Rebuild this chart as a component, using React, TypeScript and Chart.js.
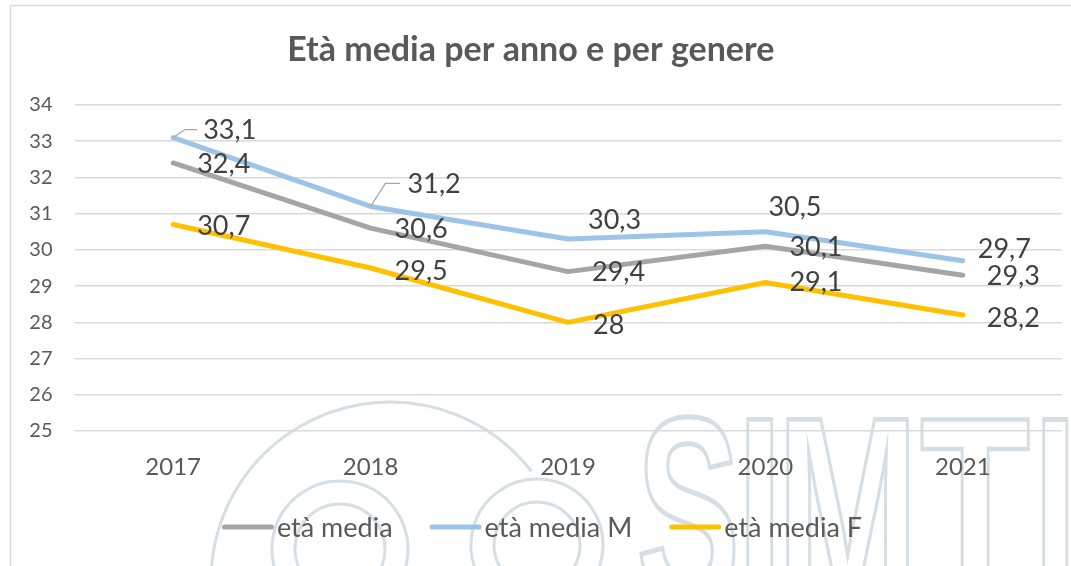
import React, { useEffect, useRef } from "react";
import { Chart, registerables } from "chart.js";

Chart.register(...registerables);

const years = ["2017", "2018", "2019", "2020", "2021"];
const etaMedia = [32.4, 30.6, 29.4, 30.1, 29.3];
const etaMediaM = [33.1, 31.2, 30.3, 30.5, 29.7];
const etaMediaF = [30.7, 29.5, 28, 29.1, 28.2];
const yTicks = [25, 26, 27, 28, 29, 30, 31, 32, 33, 34];

const seriesNames = ["età media", "età media M", "età media F"];
const seriesColors = ["#a5a5a5", "#9dc3e6", "#ffc000"];

// label placement (dx to left edge of label, dy to label centre), per series/point
const labelOffsets = [
  [[24, 0], [24, 0], [24, 0], [24, 0], [24, 0]],
  [[30, -8], [37, -23], [20, -20], [3, -25], [15, -12]],
  [[24, 1], [24, 2], [25, 2], [24, -1], [24, 2]],
];
// leader lines for some labels: series, point
const leaders = [
  [1, 0],
  [1, 1],
];

// watermark letters: char, left, width
const wmLetters: [string, number, number][] = [
  ["S", 639, 97],
  ["I", 747, 26],
  ["M", 787, 123],
  ["T", 920, 110],
  ["I", 1043, 25],
];

const FONT = "Lato, 'Open Sans', sans-serif";
const LEGEND = { centerX: 542, centerY: 527, lineLen: 52, gap: 3, itemGap: 37, fontSize: 27 };

const fmt = (v: number) => String(v).replace(".", ",");

const backgroundPlugin = {
  id: "bgDecor",
  beforeDraw(chart: any) {
    const ctx = chart.ctx as CanvasRenderingContext2D;
    ctx.save();
    ctx.strokeStyle = "#d9d9d9";
    ctx.lineWidth = 1.5;
    ctx.strokeRect(10.5, 5.5, 1200, 700);
    // watermark
    ctx.strokeStyle = "rgba(150,172,190,0.40)";
    ctx.lineWidth = 3;
    ctx.beginPath();
    ctx.arc(390, 581, 179, Math.PI * 0.95, Math.PI * 1.79);
    ctx.stroke();
    const rings = [
      [340, 549, 68, 45],
      [537, 545, 66, 43],
    ];
    rings.forEach(([cx, cy, ro, ri]) => {
      ctx.beginPath();
      ctx.arc(cx, cy, ro, Math.PI * 0.8, Math.PI * 2.25);
      ctx.stroke();
      ctx.beginPath();
      ctx.arc(cx, cy, ri, Math.PI * 0.75, Math.PI * 2.3);
      ctx.stroke();
    });
    const size = 265;
    ctx.font = `bold ${size}px 'Liberation Sans', Arial, sans-serif`;
    ctx.textBaseline = "alphabetic";
    ctx.textAlign = "left";
    const base = 412 + size * 0.716;
    wmLetters.forEach(([ch, left, w]) => {
      const m = ctx.measureText(ch);
      const ink = m.actualBoundingBoxLeft + m.actualBoundingBoxRight;
      const sx = w / ink;
      ctx.save();
      ctx.translate(left, base);
      ctx.scale(sx, 1);
      ctx.lineWidth = 3 / sx;
      ctx.strokeText(ch, m.actualBoundingBoxLeft, 0);
      ctx.restore();
    });
    ctx.restore();
  },
};

const labelsPlugin = {
  id: "pointLabels",
  afterDatasetsDraw(chart: any) {
    const ctx = chart.ctx as CanvasRenderingContext2D;
    ctx.save();
    ctx.strokeStyle = "#a6a6a6";
    ctx.lineWidth = 1.2;
    leaders.forEach(([s, p]) => {
      const el = chart.getDatasetMeta(s).data[p];
      const [dx, dy] = labelOffsets[s][p];
      const x0 = el.x;
      const y0 = el.y;
      const yL = y0 + dy;
      ctx.beginPath();
      ctx.moveTo(x0, y0);
      ctx.lineTo(x0 + dx * 0.4, yL);
      ctx.lineTo(x0 + dx * 0.8, yL);
      ctx.stroke();
    });
    ctx.font = `27px ${FONT}`;
    ctx.fillStyle = "#404040";
    ctx.textAlign = "left";
    ctx.textBaseline = "middle";
    chart.data.datasets.forEach((ds: any, s: number) => {
      const meta = chart.getDatasetMeta(s);
      meta.data.forEach((el: any, p: number) => {
        const [dx, dy] = labelOffsets[s][p];
        ctx.fillText(fmt(ds.data[p]), el.x + dx, el.y + dy + 1);
      });
    });
    ctx.restore();
  },
};

const legendPlugin = {
  id: "customLegend",
  afterDraw(chart: any) {
    const ctx = chart.ctx as CanvasRenderingContext2D;
    ctx.save();
    ctx.font = `${LEGEND.fontSize}px ${FONT}`;
    ctx.textBaseline = "middle";
    ctx.textAlign = "left";
    const items = chart.data.datasets.map((ds: any) => ({
      text: ds.label as string,
      color: ds.borderColor as string,
      w: LEGEND.lineLen + LEGEND.gap + ctx.measureText(ds.label).width,
    }));
    const total =
      items.reduce((a: number, it: any) => a + it.w, 0) + LEGEND.itemGap * (items.length - 1);
    let x = LEGEND.centerX - total / 2;
    const y = LEGEND.centerY;
    items.forEach((it: any) => {
      ctx.strokeStyle = it.color;
      ctx.lineWidth = 5;
      ctx.lineCap = "round";
      ctx.beginPath();
      ctx.moveTo(x + 2.5, y);
      ctx.lineTo(x + LEGEND.lineLen - 2.5, y);
      ctx.stroke();
      ctx.fillStyle = "#595959";
      ctx.fillText(it.text, x + LEGEND.lineLen + LEGEND.gap, y + 1);
      x += it.w + LEGEND.itemGap;
    });
    ctx.restore();
  },
};

export default function App() {
  const ref = useRef<HTMLCanvasElement | null>(null);

  useEffect(() => {
    document.body.style.margin = "0";
    const canvas = ref.current;
    if (!canvas) return;
    const seriesData = [etaMedia, etaMediaM, etaMediaF];
    const chart = new Chart(canvas, {
      type: "line",
      data: {
        labels: years,
        datasets: seriesData.map((d, i) => ({
          label: seriesNames[i],
          data: d,
          borderColor: seriesColors[i],
          backgroundColor: seriesColors[i],
          borderWidth: 5,
          pointRadius: 0,
          borderCapStyle: "round" as const,
          borderJoinStyle: "round" as const,
          tension: 0,
          fill: false,
        })),
      },
      options: {
        responsive: false,
        animation: false,
        layout: { padding: { left: 0, right: 9.5, top: 0, bottom: 86 } },
        plugins: {
          title: {
            display: true,
            text: "Età media per anno e per genere",
            color: "#595959",
            font: { family: FONT, size: 34, weight: "bold" },
            padding: { top: 30, bottom: 34.2 },
          },
          legend: { display: false },
          tooltip: { enabled: false },
        },
        scales: {
          x: {
            offset: true,
            grid: { display: false, drawTicks: false },
            border: { display: false },
            ticks: {
              color: "#595959",
              font: { family: FONT, size: 24 },
              padding: 22,
            },
            afterFit: (s: any) => {
              s.height = 49;
            },
          },
          y: {
            min: 25,
            max: 34,
            afterBuildTicks: (s: any) => {
              s.ticks = yTicks.map((v) => ({ value: v }));
            },
            grid: { color: "#d9d9d9", lineWidth: 1.5, drawTicks: false },
            border: { display: false },
            ticks: {
              color: "#595959",
              font: { family: FONT, size: 20 },
              padding: 22,
            },
            afterFit: (s: any) => {
              s.width = 74.5;
            },
          },
        },
      },
      plugins: [backgroundPlugin, labelsPlugin, legendPlugin],
    });
    return () => chart.destroy();
  }, []);

  return (
    <div style={{ width: 1071, height: 566 }}>
      <canvas ref={ref} width={1071} height={566} />
    </div>
  );
}
